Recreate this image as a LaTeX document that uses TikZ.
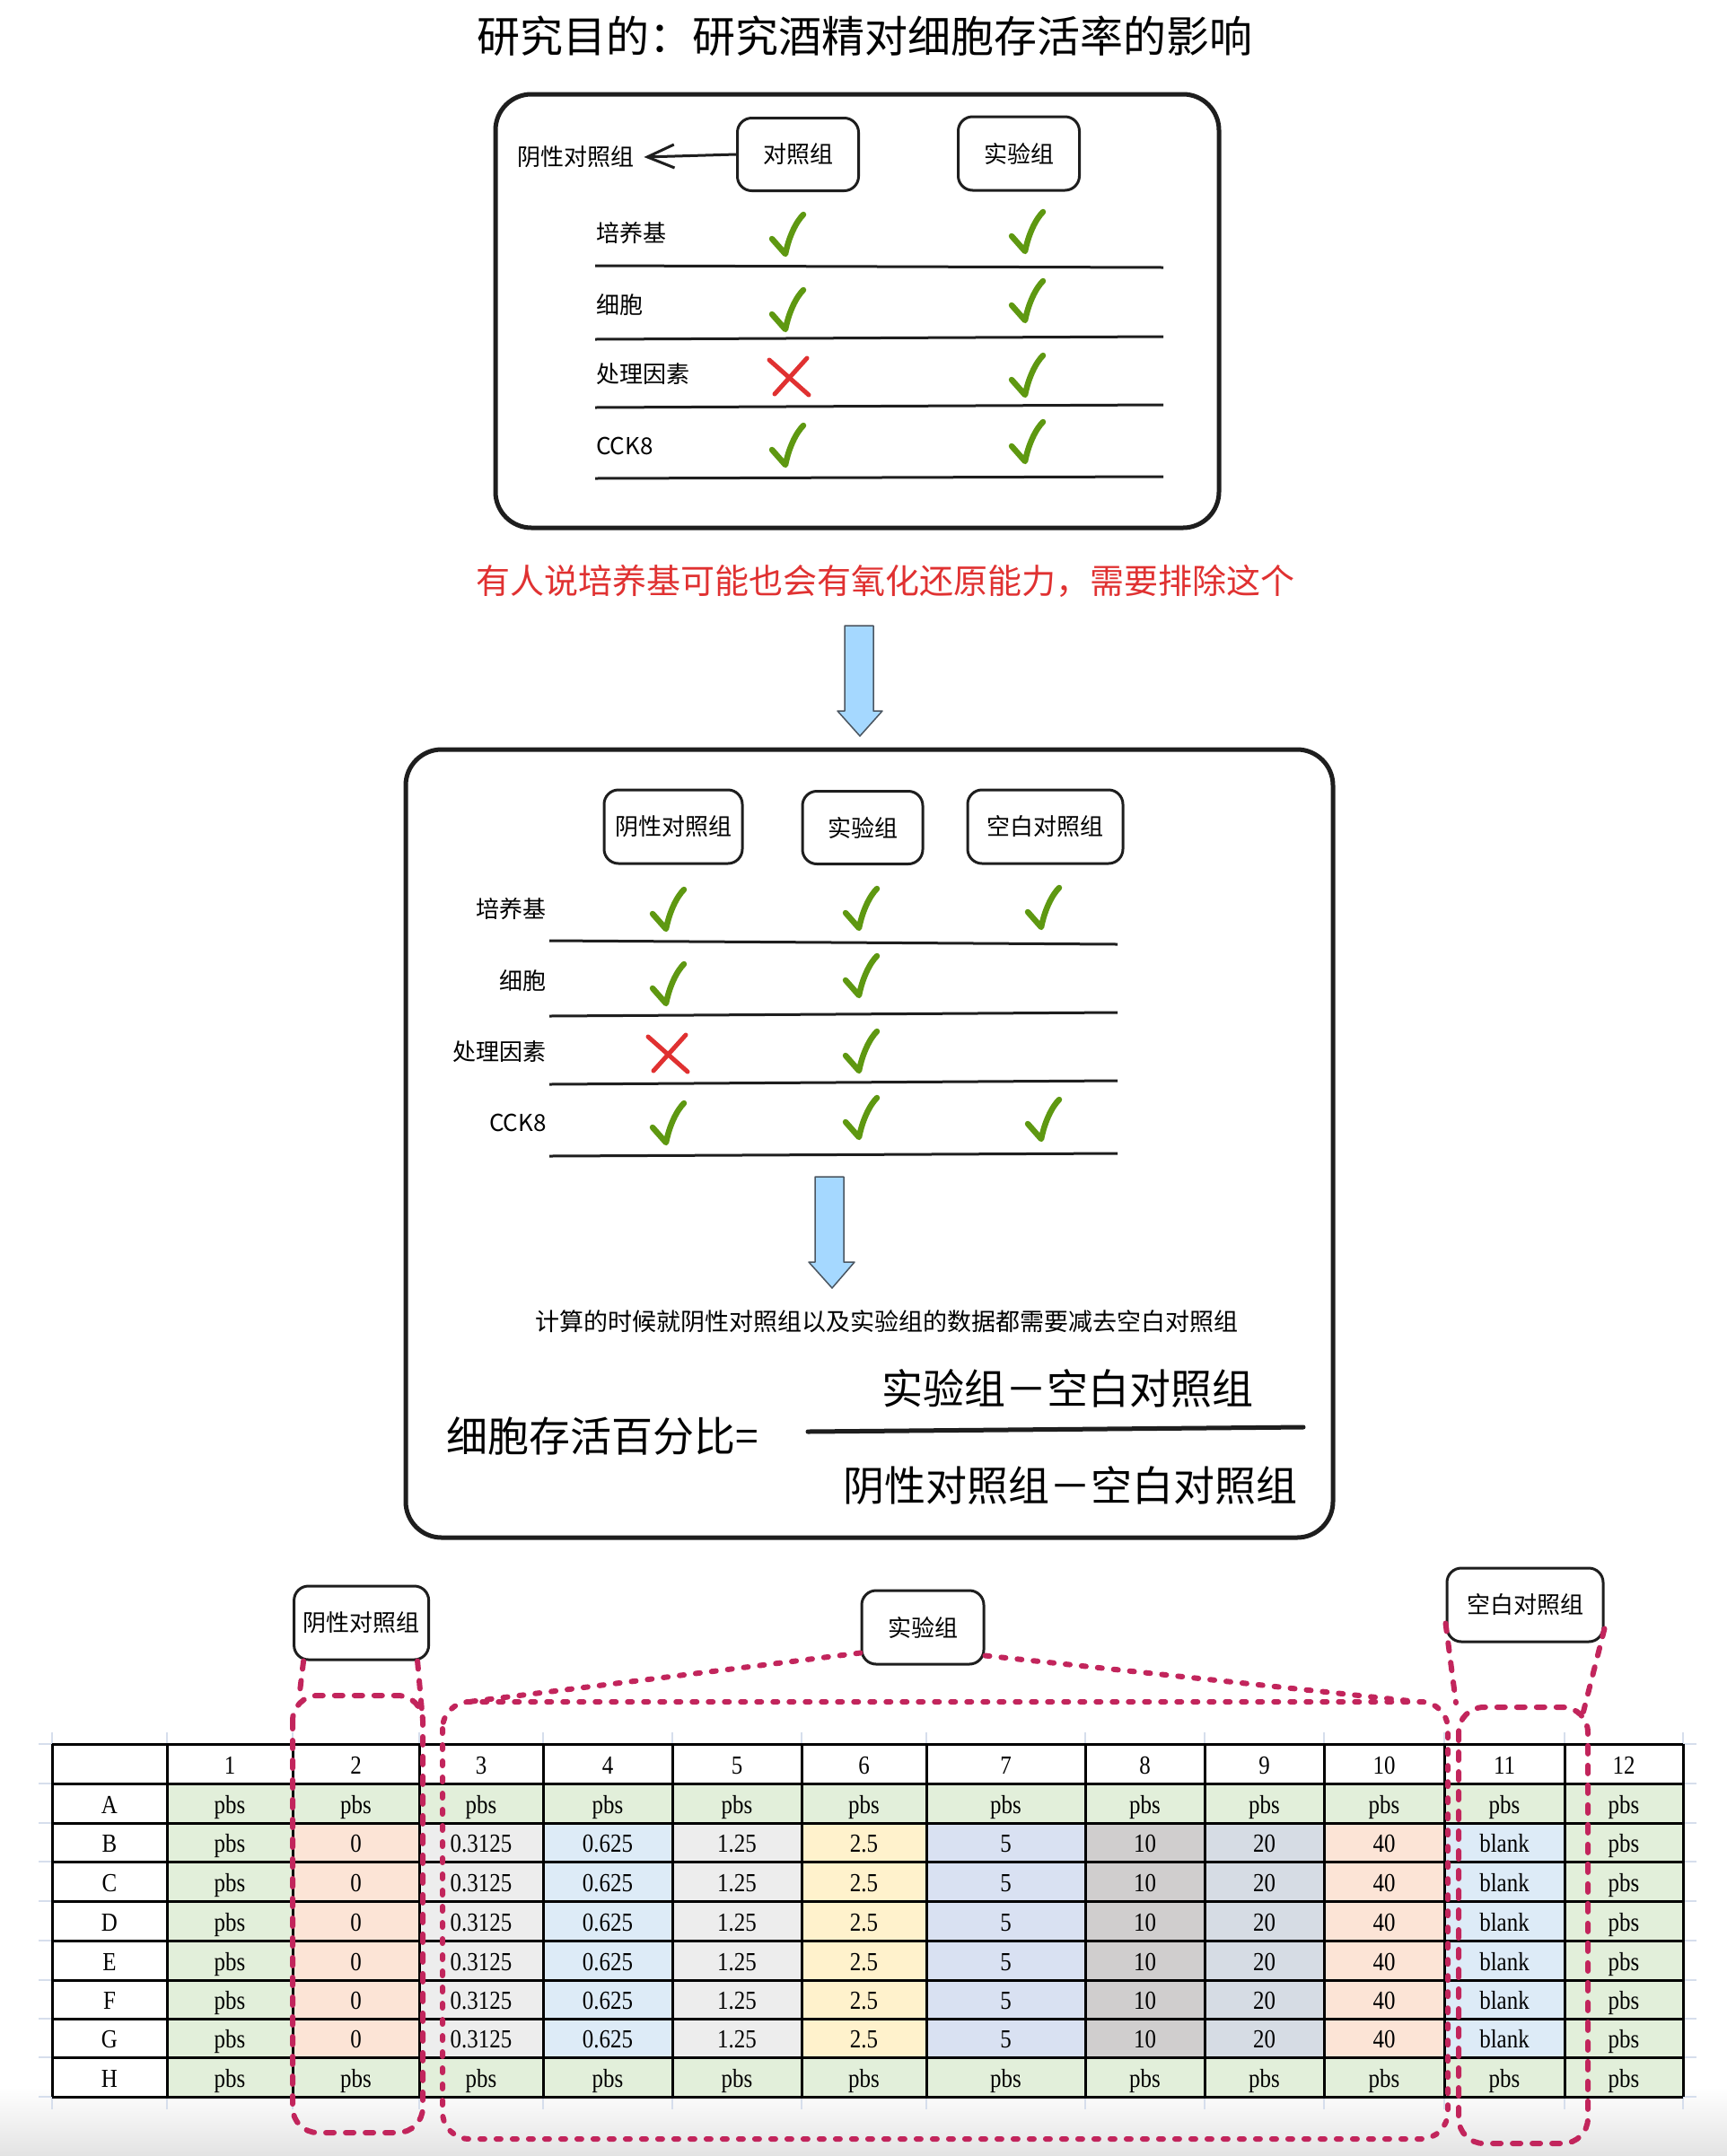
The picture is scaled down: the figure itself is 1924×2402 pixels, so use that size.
\documentclass[tikz,border=0pt]{standalone}
\usepackage{fontspec}
\setmainfont{Noto Sans CJK SC}
\newfontfamily\tabfont[FakeStretch=0.86]{Liberation Serif}
\usetikzlibrary{arrows.meta}
\definecolor{cink}{HTML}{1E1E1E}
\definecolor{cmag}{HTML}{C2255C}
\definecolor{cokg}{RGB}{94,152,17}
\definecolor{cnor}{HTML}{E03131}
\definecolor{cblue}{HTML}{A5D8FF}
\definecolor{cbluedraw}{HTML}{4A5560}
\definecolor{cgreen}{HTML}{E2EFDA}
\definecolor{cpeach}{HTML}{FCE4D6}
\definecolor{clgray}{HTML}{EDEDED}
\definecolor{clblue}{HTML}{DDEBF7}
\definecolor{cyellow}{HTML}{FFF2CC}
\definecolor{clav}{HTML}{D9E1F2}
\definecolor{cgray}{HTML}{D0CECE}
\definecolor{cbgray}{HTML}{D6DCE4}
\definecolor{cfaint}{HTML}{D6DEEC}
\newcommand\setfs[1]{\fontsize{#1}{#1}\selectfont}
\newcommand\okmark[2]{\draw[okline] ({#1-15},{#2-17}) .. controls ({#1-8},{#2-9}) .. (#1,#2) .. controls ({#1+4},{#2-20}) and ({#1+12},{#2-36}) .. ({#1+20},{#2-44});}
\newcommand\nomark[2]{\draw[noline] ({#1-22},{#2-19}) -- ({#1+22},{#2+20}); \draw[noline] ({#1+20},{#2-21}) -- ({#1-16},{#2+19});}
\tikzset{
  bigbox/.style={draw=cink, line width=5pt, rounded corners=40pt},
  lbox/.style={draw=cink, line width=3pt, rounded corners=16pt, inner sep=0pt, font=\setfs{26}},
  txt/.style={inner sep=0pt},
  rule/.style={draw=cink, line width=3pt},
  okline/.style={draw=cokg, line width=6.5pt, line cap=round, line join=round},
  noline/.style={draw=cnor, line width=5pt, line cap=round},
  blockarrow/.style={fill=cblue, draw=cbluedraw, line width=1.5pt, line join=round},
  cell/.style={inner sep=0pt, anchor=base, font=\tabfont\fontsize{29}{29}\selectfont},
  grid/.style={draw=black, line width=3pt},
  faint/.style={draw=cfaint, line width=2.5pt},
  magrect/.style={draw=cmag, line width=6pt, dash pattern=on 9pt off 13pt, line cap=round, rounded corners=28pt},
  magdot/.style={draw=cmag, line width=6pt, dash pattern=on 5pt off 13pt, line cap=round, rounded corners=30pt},
  magline/.style={draw=cmag, line width=6pt, dash pattern=on 9pt off 13pt, line cap=round},
}
\begin{document}
\begin{tikzpicture}[x=1pt,y=-1pt]
\useasboundingbox (0,0) rectangle (1924,2402);
\fill[white] (0,0) rectangle (1924,2402);
\shade[top color=white, bottom color=black!11] (0,2325) rectangle (1924,2402);

% title
\node[txt, font=\setfs{48}] (title) at (963,40) {研究目的：研究酒精对细胞存活率的影响};

% ---------- box 1 ----------
\draw[bigbox] (552,105) rectangle (1358,588);
\node[lbox, minimum width=135pt, minimum height=81pt] (b1ctl) at (889,172) {对照组};
\node[lbox, minimum width=135pt, minimum height=82pt] (b1exp) at (1135,171) {实验组};
\node[txt, anchor=west, font=\setfs{26}] (b1neg) at (576,175) {阴性对照组};
\draw[cink, line width=3pt, -{Straight Barb[length=30pt,width=26pt,line width=3pt]}] (b1ctl.west) -- ([xshift=11pt]b1neg.east);
\node[txt, anchor=west, font=\setfs{26}] (b1r1) at (664,260) {培养基};
\node[txt, anchor=west, font=\setfs{26}] (b1r2) at (664,340) {细胞};
\node[txt, anchor=west, font=\setfs{26}] (b1r3) at (664,417) {处理因素};
\node[txt, anchor=west, font=\setfs{26}] (b1r4) at (664,497) {CCK8};
\draw[rule] (663,296) -- (1296,298);
\draw[rule] (663,378) -- (1296,375);
\draw[rule] (663,454) -- (1296,451);
\draw[rule] (663,533) -- (1296,531);
\okmark{875}{283}
\okmark{875}{367}
\nomark{879}{420}
\okmark{875}{518}
\okmark{1142}{280}
\okmark{1142}{357}
\okmark{1142}{440}
\okmark{1142}{514}

% red remark
\node[txt, text=cnor, font=\setfs{38}] (remark) at (986,647) {有人说培养基可能也会有氧化还原能力，需要排除这个};

% blue arrow 1
\draw[blockarrow] (941,697) -- (973,697) -- (973,792) -- (983,792) -- (958,820) -- (933,792) -- (941,792) -- cycle;

% ---------- box 2 ----------
\draw[bigbox] (452,835) rectangle (1485,1713);
\node[lbox, minimum width=154pt, minimum height=82pt] (b2neg) at (750,921) {阴性对照组};
\node[lbox, minimum width=134pt, minimum height=81pt] (b2exp) at (961,922) {实验组};
\node[lbox, minimum width=173pt, minimum height=82pt] (b2blk) at (1164.5,921) {空白对照组};
\node[txt, anchor=east, font=\setfs{26}] (b2r1) at (609,1013) {培养基};
\node[txt, anchor=east, font=\setfs{26}] (b2r2) at (609,1093) {细胞};
\node[txt, anchor=east, font=\setfs{26}] (b2r3) at (609,1172) {处理因素};
\node[txt, anchor=east, font=\setfs{26}] (b2r4) at (609,1251) {CCK8};
\draw[rule] (612,1048) -- (1245,1052);
\draw[rule] (612,1132) -- (1245,1128);
\draw[rule] (612,1208) -- (1245,1204);
\draw[rule] (612,1288) -- (1245,1285);
\okmark{742}{1035}
\okmark{742}{1118}
\nomark{744}{1174}
\okmark{742}{1273}
\okmark{957}{1034}
\okmark{957}{1109}
\okmark{957}{1193}
\okmark{957}{1267}
\okmark{1160}{1033}
\okmark{1160}{1269}

% blue arrow 2
\draw[blockarrow] (908,1311) -- (940,1311) -- (940,1406) -- (952,1406) -- (927,1435) -- (901,1406) -- (908,1406) -- cycle;

\node[txt, font=\setfs{27}] (note) at (988,1472) {计算的时候就阴性对照组以及实验组的数据都需要减去空白对照组};
\node[txt, anchor=west, font=\setfs{46}] (flhs) at (497,1600) {细胞存活百分比=};
\node[txt, font=\setfs{46}] (fnum) at (1189,1547) {实验组－空白对照组};
\node[txt, font=\setfs{46}] (fden) at (1192,1655) {阴性对照组－空白对照组};
\draw[cink, line width=5pt, line cap=round] (900,1595) -- (1452,1590);

% ---------- table ----------
\foreach \y in {1943,1987,2031,2074,2118,2162,2206,2249,2292,2336} {
  \draw[faint] (43,\y) -- (58,\y);
  \draw[faint] (1875,\y) -- (1890,\y);
}
\foreach \x in {58,186,326,467,605,749,893,1032,1209,1342,1475,1609,1743,1875} {
  \draw[faint] (\x,1930) -- (\x,1943);
  \draw[faint] (\x,2336) -- (\x,2350);
}
\fill[white] (58,1943) rectangle (1875,2336);
\fill[cgreen] (186,1987) rectangle (1875,2031);
\fill[cgreen] (186,2292) rectangle (1875,2336);
\fill[cgreen] (186,2031) rectangle (326,2292);
\fill[cgreen] (1743,2031) rectangle (1875,2292);
\fill[cpeach] (326,2031) rectangle (467,2292);
\fill[clgray] (467,2031) rectangle (605,2292);
\fill[clblue] (605,2031) rectangle (749,2292);
\fill[clgray] (749,2031) rectangle (893,2292);
\fill[cyellow] (893,2031) rectangle (1032,2292);
\fill[clav] (1032,2031) rectangle (1209,2292);
\fill[cgray] (1209,2031) rectangle (1342,2292);
\fill[cbgray] (1342,2031) rectangle (1475,2292);
\fill[cpeach] (1475,2031) rectangle (1609,2292);
\fill[clblue] (1609,2031) rectangle (1743,2292);
\foreach \x in {58,186,326,467,605,749,893,1032,1209,1342,1475,1609,1743,1875}
  \draw[grid] (\x,1943) -- (\x,2336);
\foreach \y in {1943,1987,2031,2074,2118,2162,2206,2249,2292,2336}
  \draw[grid] (58,\y) -- (1875,\y);
% header (nodes at baseline = row centre + 11)
\foreach \cx [count=\i] in {256,396.5,536,677,821,962.5,1120.5,1275.5,1408.5,1542,1676,1809}
  \node[cell] (h-\i) at (\cx,1976) {\i};
\foreach \ry/\lab in {2020/A,2063.5/B,2107/C,2151/D,2195/E,2238.5/F,2281.5/G,2325/H}
  \node[cell] (row-\lab) at (122,\ry) {\lab};
\foreach \cx [count=\i] in {256,396.5,536,677,821,962.5,1120.5,1275.5,1408.5,1542,1676,1809} {
  \node[cell] (a-\i) at (\cx,2020) {pbs};
  \node[cell] (hh-\i) at (\cx,2325) {pbs};
}
\foreach \cx/\v [count=\i] in {256/pbs,396.5/0,536/0.3125,677/0.625,821/1.25,962.5/2.5,1120.5/5,1275.5/10,1408.5/20,1542/40,1676/blank,1809/pbs}
  \foreach \ry [count=\j] in {2063.5,2107,2151,2195,2238.5,2281.5}
    \node[cell] (d\j-\i) at (\cx,\ry) {\v};

% group labels
\node[lbox, minimum width=150pt, minimum height=82pt] (tneg) at (402.6,1808) {阴性对照组};
\node[lbox, minimum width=136pt, minimum height=82pt] (texp) at (1028,1813) {实验组};
\node[lbox, minimum width=174pt, minimum height=82pt] (tblk) at (1699,1788) {空白对照组};

% dashed group outlines
\draw[magrect] (326,1889) rectangle (471,2376);
\draw[magdot] (493,1896) rectangle (1613,2383);
\draw[magrect] (1625,1902) rectangle (1769,2388);
\coordinate (negL) at (333,1893);
\coordinate (negR) at (470,1906);
\coordinate (expL) at (514,1897);
\coordinate (expR) at (1580,1896);
\coordinate (blkL) at (1622,1897);
\coordinate (blkR) at (1764,1907);
\draw[magline] ([xshift=12pt]tneg.south west) -- (negL);
\draw[magline] ([xshift=-14pt]tneg.south east) -- (negR);
\draw[magdot, rounded corners=0pt] ([yshift=14pt]texp.south west) -- (expL);
\draw[magdot, rounded corners=0pt] ([yshift=11pt]texp.south east) -- (expR);
\draw[magline] ([yshift=22pt]tblk.south west) -- (blkL);
\draw[magline] ([yshift=16pt]tblk.south east) -- (blkR);
\end{tikzpicture}
\end{document}
